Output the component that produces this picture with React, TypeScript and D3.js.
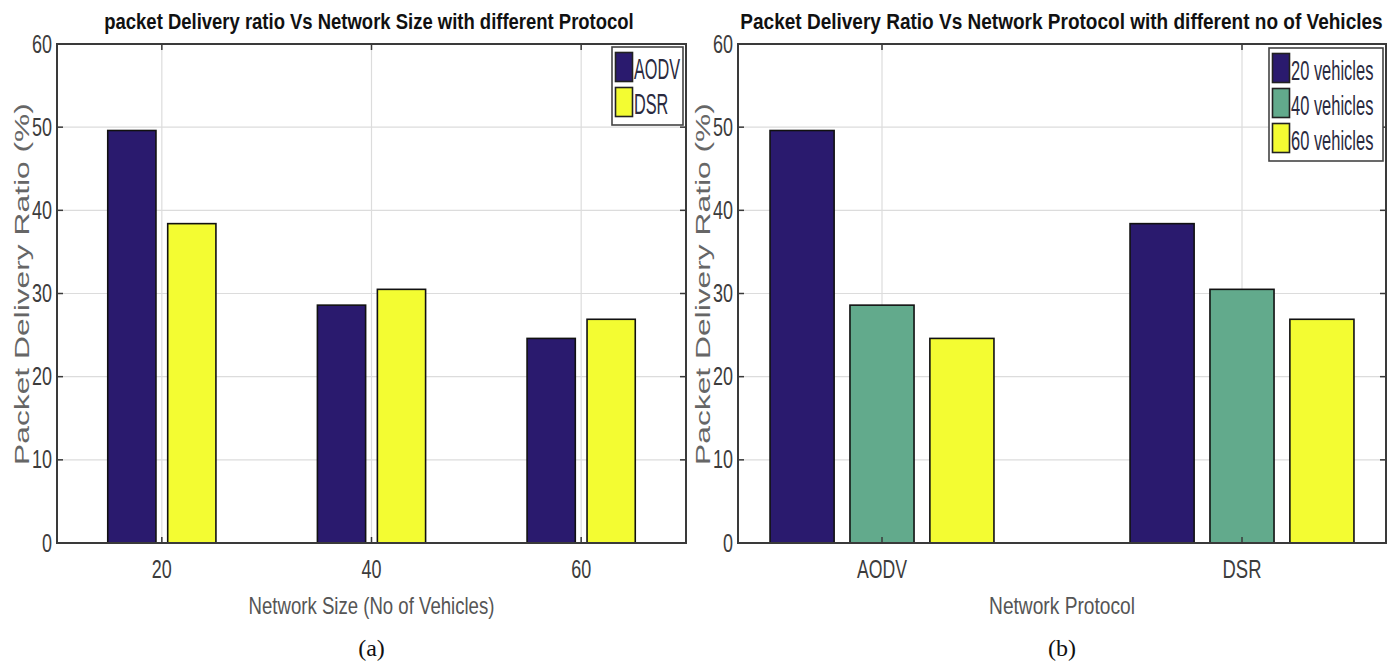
import React, { useLayoutEffect, useRef, useState } from "react";
import * as d3 from "d3";

// Packet delivery ratio (%) per network size, one array per protocol
const networkSizes = ["20", "40", "60"];
const aodvPdr = [49.6, 28.6, 24.6];
const dsrPdr = [38.4, 30.5, 26.9];

// Second view: grouped by protocol, one series per vehicle count
const protocols = ["AODV", "DSR"];
const vehicleLabels = ["20 vehicles", "40 vehicles", "60 vehicles"];

const yTicks = [0, 10, 20, 30, 40, 50, 60];

const NAVY = "#2a1a6e";
const TEAL = "#62aa8c";
const YELLOW = "#f3fc32";

const W = 1395;
const H = 665;

const SANS = "'Liberation Sans', Arial, 'DejaVu Sans', sans-serif";
const SERIF = "'Liberation Serif', 'Times New Roman', serif";

type TxtProps = {
  x: number;
  y: number;
  size: number;
  len?: number; // target rendered length; text is squeezed horizontally to fit
  sx?: number;
  anchor?: "start" | "middle" | "end";
  weight?: number | string;
  fill?: string;
  family?: string;
  rotate?: number;
  children: React.ReactNode;
};

function Txt({ x, y, size, len, sx, anchor = "middle", weight = 400, fill = "#333", family = SANS, rotate = 0, children }: TxtProps) {
  const ref = useRef<SVGTextElement>(null);
  const [fit, setFit] = useState(sx ?? 1);
  useLayoutEffect(() => {
    if (len && ref.current) {
      const w = ref.current.getComputedTextLength();
      if (w > 0) setFit(len / w);
    }
  }, [len, size, children]);
  return (
    <text
      ref={ref}
      transform={`translate(${x},${y}) rotate(${rotate}) scale(${fit},1)`}
      fontSize={size}
      fontFamily={family}
      fontWeight={weight}
      fill={fill}
      textAnchor={anchor}
    >
      {children}
    </text>
  );
}

type Series = { name: string; values: number[]; color: string };

type PanelProps = {
  left: number;
  right: number;
  xDomain: [number, number];
  categories: string[];
  catLabelWidths: number[];
  series: Series[];
  offsets: number[];
  barWidth: number;
  title: string;
  titleStart: number;
  titleEnd: number;
  xLabel: string;
  xLabelWidth: number;
  yLabelX: number;
  caption: string;
  legend: { x0: number; x1: number; y0: number; rowH: number; sx: number; fontSize: number };
};

function Panel(p: PanelProps) {
  const top = 44;
  const bottom = 543;
  const x = d3.scaleLinear().domain(p.xDomain).range([p.left, p.right]);
  const y = d3.scaleLinear().domain([0, 60]).range([bottom, top]);
  const cx = (p.left + p.right) / 2;
  const tickLen = 6;
  const frame = "#3a3a3a";
  const catPos = p.categories.map((_, i) => i + 1);
  const lg = p.legend;
  const lgH = lg.rowH * p.series.length + 8;

  return (
    <g>
      {/* grid */}
      {yTicks.slice(1, -1).map((t) => (
        <line key={"gy" + t} x1={p.left} x2={p.right} y1={y(t)} y2={y(t)} stroke="#dcdcdc" strokeWidth={1.2} />
      ))}
      {catPos.map((c) => (
        <line key={"gx" + c} x1={x(c)} x2={x(c)} y1={top} y2={bottom} stroke="#dcdcdc" strokeWidth={1.2} />
      ))}

      {/* bars */}
      {p.series.map((s, si) =>
        s.values.map((v, ci) => {
          const xc = x(catPos[ci] + p.offsets[si]);
          const w = x(p.barWidth) - x(0);
          return (
            <rect
              key={s.name + ci}
              x={xc - w / 2}
              y={y(v)}
              width={w}
              height={y(0) - y(v)}
              fill={s.color}
              stroke="#111"
              strokeWidth={1.6}
            />
          );
        })
      )}

      {/* ticks */}
      {yTicks.map((t) => (
        <g key={"ty" + t}>
          <line x1={p.left} x2={p.left + tickLen} y1={y(t)} y2={y(t)} stroke={frame} strokeWidth={1.5} />
          <line x1={p.right} x2={p.right - tickLen} y1={y(t)} y2={y(t)} stroke={frame} strokeWidth={1.5} />
          <Txt x={p.left - 5} y={y(t) + 8.5} size={25} len={String(t).length * 10} anchor="end" fill="#3c3c3c">
            {t}
          </Txt>
        </g>
      ))}
      {catPos.map((c, i) => (
        <g key={"tx" + c}>
          <line x1={x(c)} x2={x(c)} y1={bottom} y2={bottom - tickLen} stroke={frame} strokeWidth={1.5} />
          <line x1={x(c)} x2={x(c)} y1={top} y2={top + tickLen} stroke={frame} strokeWidth={1.5} />
          <Txt x={x(c)} y={578} size={25} len={p.catLabelWidths[i]} fill="#3c3c3c">
            {p.categories[i]}
          </Txt>
        </g>
      ))}

      {/* frame */}
      <rect x={p.left} y={top} width={p.right - p.left} height={bottom - top} fill="none" stroke={frame} strokeWidth={2} />

      {/* legend */}
      <rect x={lg.x0} y={lg.y0} width={lg.x1 - lg.x0} height={lgH} fill="#fff" stroke="#444" strokeWidth={1.6} />
      {p.series.map((s, i) => {
        const ry = lg.y0 + 4 + i * lg.rowH;
        return (
          <g key={"lg" + s.name}>
            <rect x={lg.x0 + 3.5} y={ry + 1.5} width={17} height={lg.rowH - 6} fill={s.color} stroke="#222" strokeWidth={1.6} />
            <Txt x={lg.x0 + 22} y={ry + lg.rowH / 2 + 10} size={lg.fontSize} sx={lg.sx} anchor="start" fill="#2a2a40">
              {s.name}
            </Txt>
          </g>
        );
      })}

      {/* titles and labels */}
      <Txt x={(p.titleStart + p.titleEnd) / 2} y={29} size={22} len={p.titleEnd - p.titleStart} weight={700} fill="#111">
        {p.title}
      </Txt>
      <Txt x={cx} y={614} size={23} len={p.xLabelWidth} fill="#555">
        {p.xLabel}
      </Txt>
      <Txt x={p.yLabelX} y={284} size={21} len={362} rotate={-90} fill="#666">
        Packet Delivery Ratio (%)
      </Txt>
      <Txt x={cx} y={656} size={24} family={SERIF} fill="#111">
        {p.caption}
      </Txt>
    </g>
  );
}

export default function App() {
  const sizeSeries: Series[] = [
    { name: "AODV", values: aodvPdr, color: NAVY },
    { name: "DSR", values: dsrPdr, color: YELLOW },
  ];
  // regroup: each vehicle count becomes a series over the two protocols
  const vehicleSeries: Series[] = vehicleLabels.map((name, i) => ({
    name,
    values: [aodvPdr[i], dsrPdr[i]],
    color: [NAVY, TEAL, YELLOW][i],
  }));

  return (
    <svg width={W} height={H} style={{ display: "block", position: "absolute", left: 0, top: 0, background: "#fff" }}>
      <rect x={0} y={0} width={W} height={H} fill="#fff" />
      <Panel
        left={57}
        right={686}
        xDomain={[0.5, 3.5]}
        categories={networkSizes}
        catLabelWidths={[20, 20, 20]}
        series={sizeSeries}
        offsets={[-0.143, 0.143]}
        barWidth={0.23}
        title="packet Delivery ratio Vs Network Size with different Protocol"
        titleStart={104}
        titleEnd={634}
        xLabel="Network Size (No of Vehicles)"
        xLabelWidth={246}
        yLabelX={29}
        caption="(a)"
        legend={{ x0: 612, x1: 683, y0: 47, rowH: 35, sx: 0.56, fontSize: 29 }}
      />
      <Panel
        left={738}
        right={1386}
        xDomain={[0.6, 2.4]}
        categories={protocols}
        catLabelWidths={[50, 39]}
        series={vehicleSeries}
        offsets={[-0.222, 0, 0.222]}
        barWidth={0.178}
        title="Packet Delivery Ratio Vs Network Protocol with different no of Vehicles"
        titleStart={740}
        titleEnd={1383}
        xLabel="Network Protocol"
        xLabelWidth={146}
        yLabelX={710}
        caption="(b)"
        legend={{ x0: 1269, x1: 1383, y0: 48, rowH: 35, sx: 0.61, fontSize: 27 }}
      />
    </svg>
  );
}
